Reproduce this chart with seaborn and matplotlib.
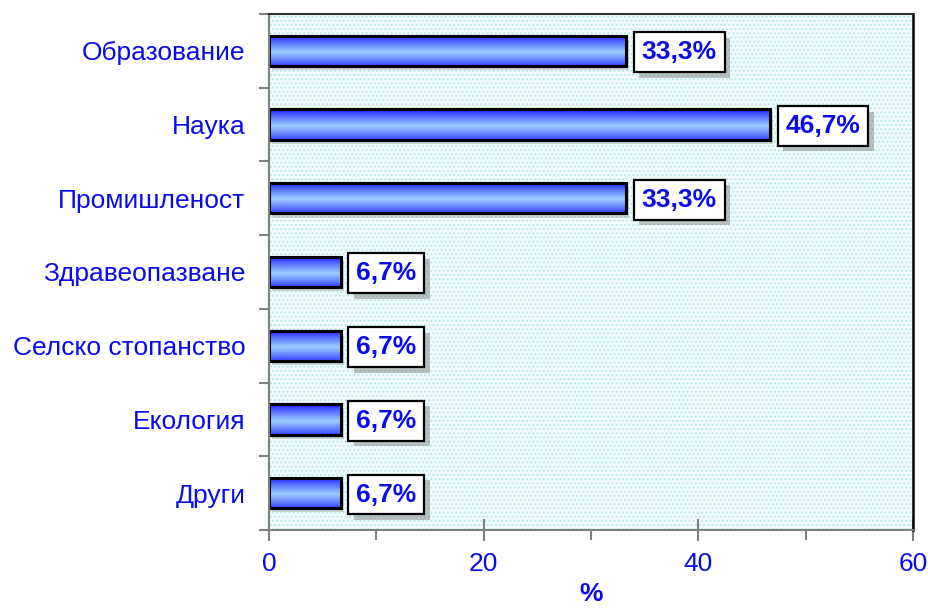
import numpy as np
import pandas as pd
import matplotlib
matplotlib.use("Agg")
import matplotlib.pyplot as plt
import matplotlib.patheffects as pe
import seaborn as sns
from matplotlib.colors import to_rgb
from matplotlib.patches import Rectangle

categories = ["Образование", "Наука", "Промишленост", "Здравеопазване",
              "Селско стопанство", "Екология", "Други"]
values = [33.3, 46.7, 33.3, 6.7, 6.7, 6.7, 6.7]
xticks = [0, 20, 40, 60]

df = pd.DataFrame({"cat": categories, "val": values})

sns.set_theme(style="white")
plt.rcParams['font.family'] = ['Liberation Sans', 'DejaVu Sans']
plt.rcParams['hatch.linewidth'] = 0.9

BLUE = "#0a0aee"
FS = 19
fig = plt.figure(figsize=(9.29, 6.11), dpi=100)
ax = fig.add_axes([269/929, 1-530/611, (913-269)/929, (530-14)/611])

sns.barplot(data=df, x="val", y="cat", orient="h", ax=ax, width=0.41,
            color="#4060ff", edgecolor="black", linewidth=2.2, zorder=3)
bars = list(ax.patches)

ax.set_xlim(0, 60)
ax.set_ylim(len(categories)-0.5, -0.5)

# background: pale cyan dotted
ax.set_facecolor("#f0fbfb")
ax.add_patch(Rectangle((0, 0), 1, 1, transform=ax.transAxes, facecolor="none",
                       edgecolor="#b8eaee", hatch="....", linewidth=0, zorder=0))

# gradient fill
dark = np.array(to_rgb("#1010ff"))
light = np.array(to_rgb("#9cccff"))
t = np.linspace(0, 1, 64)
f = np.clip(1 - np.abs(t - 0.55) / 0.55, 0, 1) ** 0.8
grad = (dark[None, :] * (1 - f[:, None]) + light[None, :] * f[:, None])[:, None, :]

for p in bars:
    x0, y0, w, h = p.get_x(), p.get_y(), p.get_width(), p.get_height()
    p.set_path_effects([pe.SimplePatchShadow(offset=(2, -3), shadow_rgbFace="#888888", alpha=0.35),
                        pe.Normal()])
    im = ax.imshow(grad, extent=(x0, x0 + w, y0 + h, y0), origin="upper",
                   aspect="auto", zorder=3.5, interpolation="bilinear")
    im.set_clip_path(p)
    ax.add_patch(Rectangle((x0, y0), w, h, facecolor="none", edgecolor="black",
                           linewidth=2.2, zorder=4))
ax.set_xlim(0, 60)
ax.set_ylim(len(categories)-0.5, -0.5)

# value labels with shadow
for i, v in enumerate(values):
    lab = f"{v:.1f}%".replace(".", ",")
    txt = ax.annotate(lab, xy=(v, i), xytext=(11, -1), textcoords="offset points",
                      ha="left", va="center", fontsize=FS, fontweight="bold", color=BLUE,
                      bbox=dict(boxstyle="square,pad=0.3", facecolor="white", edgecolor="black",
                                linewidth=1.6), zorder=5)
    txt.get_bbox_patch().set_path_effects([
        pe.SimplePatchShadow(offset=(4, -4), shadow_rgbFace="#777777", alpha=0.45),
        pe.Normal()])

# axes styling
ax.set_xticks(xticks)
ax.set_xticklabels([str(x) for x in xticks])
ax.set_xticks([10, 30, 50], minor=True)
ax.set_yticks(range(len(categories)))
ax.set_yticklabels(categories)
ax.set_yticks(np.arange(-0.5, len(categories), 1), minor=True)

ax.tick_params(axis="x", which="major", direction="inout", length=16, width=1.5,
               color="#808080", labelsize=FS, labelcolor=BLUE, pad=8, bottom=True)
ax.tick_params(axis="x", which="minor", direction="out", length=7, width=1.5,
               color="#808080", bottom=True)
ax.tick_params(axis="y", which="major", length=0, labelsize=FS, labelcolor=BLUE, pad=17)
ax.tick_params(axis="y", which="minor", direction="out", length=7, width=1.5,
               color="#808080", left=True)

ax.set_xlabel("%", fontsize=FS, fontweight="bold", color=BLUE, labelpad=4)
ax.set_ylabel("")

for s in ["left", "bottom"]:
    ax.spines[s].set_color("#808080")
    ax.spines[s].set_linewidth(1.5)
ax.spines["top"].set_color("#303030")
ax.spines["top"].set_linewidth(1.5)
ax.spines["right"].set_color("black")
ax.spines["right"].set_linewidth(1.8)
for s in ax.spines.values():
    s.set_visible(True)
    s.set_zorder(6)

fig.savefig("out.png", dpi=100, facecolor="white")
